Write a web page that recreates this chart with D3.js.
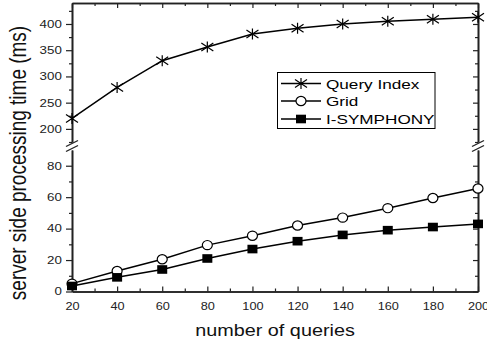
<!DOCTYPE html>
<html>
<head>
<meta charset="utf-8">
<script src="https://cdn.jsdelivr.net/npm/d3@7"></script>
<style>
  body { margin: 0; background: #fff; }
  svg { display: block; font-family: "Liberation Sans", Arial, sans-serif; }
  .axis path, .axis line { stroke: #222; }
  .axis path { stroke-width: 1.6; }
  .axis line { stroke-width: 1.2; }
  .axis text { fill: #222; }
</style>
</head>
<body>
<div id="chart"></div>
<script>
const queries = [20, 40, 60, 80, 100, 120, 140, 160, 180, 200]
const queryIndex = [220, 279, 330, 356, 381, 392, 400, 405, 409, 413]
const grid = [5, 13, 20.5, 29.5, 35.5, 42, 47, 53, 59.5, 65.5]
const iSymphony = [3.5, 9, 14, 21, 27, 32, 36, 39, 41, 43]

const xTicks = [20, 40, 60, 80, 100, 120, 140, 160, 180, 200]
const xMinor = [30, 50, 70, 90, 110, 130, 150, 170, 190]
const yHighTicks = [200, 250, 300, 350, 400]
const yHighMinor = [175, 225, 275, 325, 375, 425]
const yLowTicks = [0, 20, 40, 60, 80]
const yLowMinor = [10, 30, 50, 70]

const width = 487
const height = 345
const stretch = 1.27 // the picture is wider than its fonts

const svg = d3.select('#chart')
  .append('svg')
  .attr('width', width)
  .attr('height', height)

const x = d3.scaleLinear().domain([20, 200]).range([72, 478])
const yHigh = d3.scaleLinear().domain([175, 440]).range([142, 3])
const yLow = d3.scaleLinear().domain([0, 90]).range([291.5, 150])

function styleAxis (g, size) {
  g.classed('axis', true)
    .attr('font-family', '"Liberation Sans", Arial, sans-serif')
    .attr('font-size', size)
  g.selectAll('text').attr('transform', `scale(${stretch},1)`)
}

// left axis, two pieces with the break between them
const leftParts = [[yHigh, yHighTicks, yHighMinor], [yLow, yLowTicks, yLowMinor]]
leftParts.forEach(([scale, major, minor]) => {
  svg.append('g')
    .attr('transform', 'translate(72,0)')
    .call(d3.axisLeft(scale).tickValues(minor).tickSize(3).tickSizeOuter(0).tickFormat(''))
    .call(styleAxis, 10.5)
  svg.append('g')
    .attr('transform', 'translate(72,0)')
    .call(d3.axisLeft(scale).tickValues(major).tickSize(6).tickPadding(2).tickSizeOuter(0))
    .call(styleAxis, 10.5)
})

// right axis, ticks pointing in
leftParts.forEach(([scale, major, minor]) => {
  svg.append('g')
    .attr('transform', 'translate(478,0)')
    .call(d3.axisLeft(scale).tickValues(minor).tickSize(3).tickSizeOuter(0).tickFormat(''))
    .call(styleAxis, 10)
  svg.append('g')
    .attr('transform', 'translate(478,0)')
    .call(d3.axisLeft(scale).tickValues(major).tickSize(5).tickSizeOuter(0).tickFormat(''))
    .call(styleAxis, 10)
})

// bottom axis, ticks pointing up
svg.append('g')
  .attr('transform', 'translate(0,291.5)')
  .call(d3.axisBottom(x).tickValues(xMinor).tickSize(-3).tickSizeOuter(0).tickFormat(''))
  .call(styleAxis, 10)
svg.append('g')
  .attr('transform', 'translate(0,291.5)')
  .call(d3.axisBottom(x).tickValues(xTicks).tickSize(-5).tickPadding(11).tickSizeOuter(0))
  .call(styleAxis, 10)

// top axis, ticks pointing down
svg.append('g')
  .attr('transform', 'translate(0,3)')
  .call(d3.axisTop(x).tickValues(xMinor).tickSize(-3).tickSizeOuter(0).tickFormat(''))
  .call(styleAxis, 10)
svg.append('g')
  .attr('transform', 'translate(0,3)')
  .call(d3.axisTop(x).tickValues(xTicks).tickSize(-5).tickSizeOuter(0).tickFormat(''))
  .call(styleAxis, 10)

// break marks on both vertical axes
const breakY = [143.5, 148.5]
;[72, 478].forEach(ax => {
  breakY.forEach(by => {
    svg.append('line')
      .attr('x1', ax - 6).attr('y1', by + 3)
      .attr('x2', ax + 6).attr('y2', by - 3)
      .attr('stroke', '#222')
      .attr('stroke-width', 1.3)
  })
})

// series lines
const lineHigh = d3.line().x((d, i) => x(queries[i])).y(d => yHigh(d))
const lineLow = d3.line().x((d, i) => x(queries[i])).y(d => yLow(d))

svg.append('path').datum(queryIndex).attr('d', lineHigh)
  .attr('fill', 'none').attr('stroke', '#000').attr('stroke-width', 1.5)
svg.append('path').datum(grid).attr('d', lineLow)
  .attr('fill', 'none').attr('stroke', '#000').attr('stroke-width', 1.5)
svg.append('path').datum(iSymphony).attr('d', lineLow)
  .attr('fill', 'none').attr('stroke', '#000').attr('stroke-width', 1.5)

// markers
const asterisk = 'M0,-5.5L0,5.5M-6,-4L6,4M-6,4L6,-4'

function drawAsterisk (g, cx, cy) {
  g.append('path').attr('d', asterisk)
    .attr('transform', `translate(${cx},${cy})`)
    .attr('stroke', '#000').attr('stroke-width', 1.2).attr('fill', 'none')
}
function drawCircle (g, cx, cy) {
  g.append('ellipse').attr('cx', cx).attr('cy', cy).attr('rx', 5).attr('ry', 4.6)
    .attr('fill', '#fff').attr('stroke', '#000').attr('stroke-width', 1.2)
}
function drawSquare (g, cx, cy) {
  g.append('rect').attr('x', cx - 5).attr('y', cy - 4.3).attr('width', 10).attr('height', 8.6)
    .attr('fill', '#000')
}

const marks = svg.append('g')
grid.forEach((v, i) => drawCircle(marks, x(queries[i]), yLow(v)))
iSymphony.forEach((v, i) => drawSquare(marks, x(queries[i]), yLow(v)))
queryIndex.forEach((v, i) => drawAsterisk(marks, x(queries[i]), yHigh(v)))

// legend
const legend = svg.append('g')
legend.append('rect')
  .attr('x', 277.5).attr('y', 72.5).attr('width', 157.5).attr('height', 56)
  .attr('fill', '#fff').attr('stroke', '#000').attr('stroke-width', 1)

const legendItems = [
  ['Query Index', drawAsterisk, 83.5],
  ['Grid', drawCircle, 101],
  ['I-SYMPHONY', drawSquare, 119]
]
legendItems.forEach(([label, draw, ly]) => {
  legend.append('line')
    .attr('x1', 281).attr('x2', 321).attr('y1', ly).attr('y2', ly)
    .attr('stroke', '#000').attr('stroke-width', 1.5)
  draw(legend, 301, ly)
  legend.append('text')
    .attr('transform', `translate(326,${ly + 5}) scale(${stretch},1)`)
    .attr('font-size', 13.5)
    .attr('fill', '#000')
    .text(label)
})

// axis titles
svg.append('text')
  .attr('transform', `translate(275,336) scale(${stretch},1)`)
  .attr('text-anchor', 'middle')
  .attr('font-size', 15.6)
  .attr('fill', '#111')
  .text('number of queries')

svg.append('text')
  .attr('transform', `translate(26,163) scale(${stretch},1) rotate(-90)`)
  .attr('text-anchor', 'middle')
  .attr('font-size', 19)
  .attr('fill', '#111')
  .text('server side processing time (ms)')
</script>
</body>
</html>
